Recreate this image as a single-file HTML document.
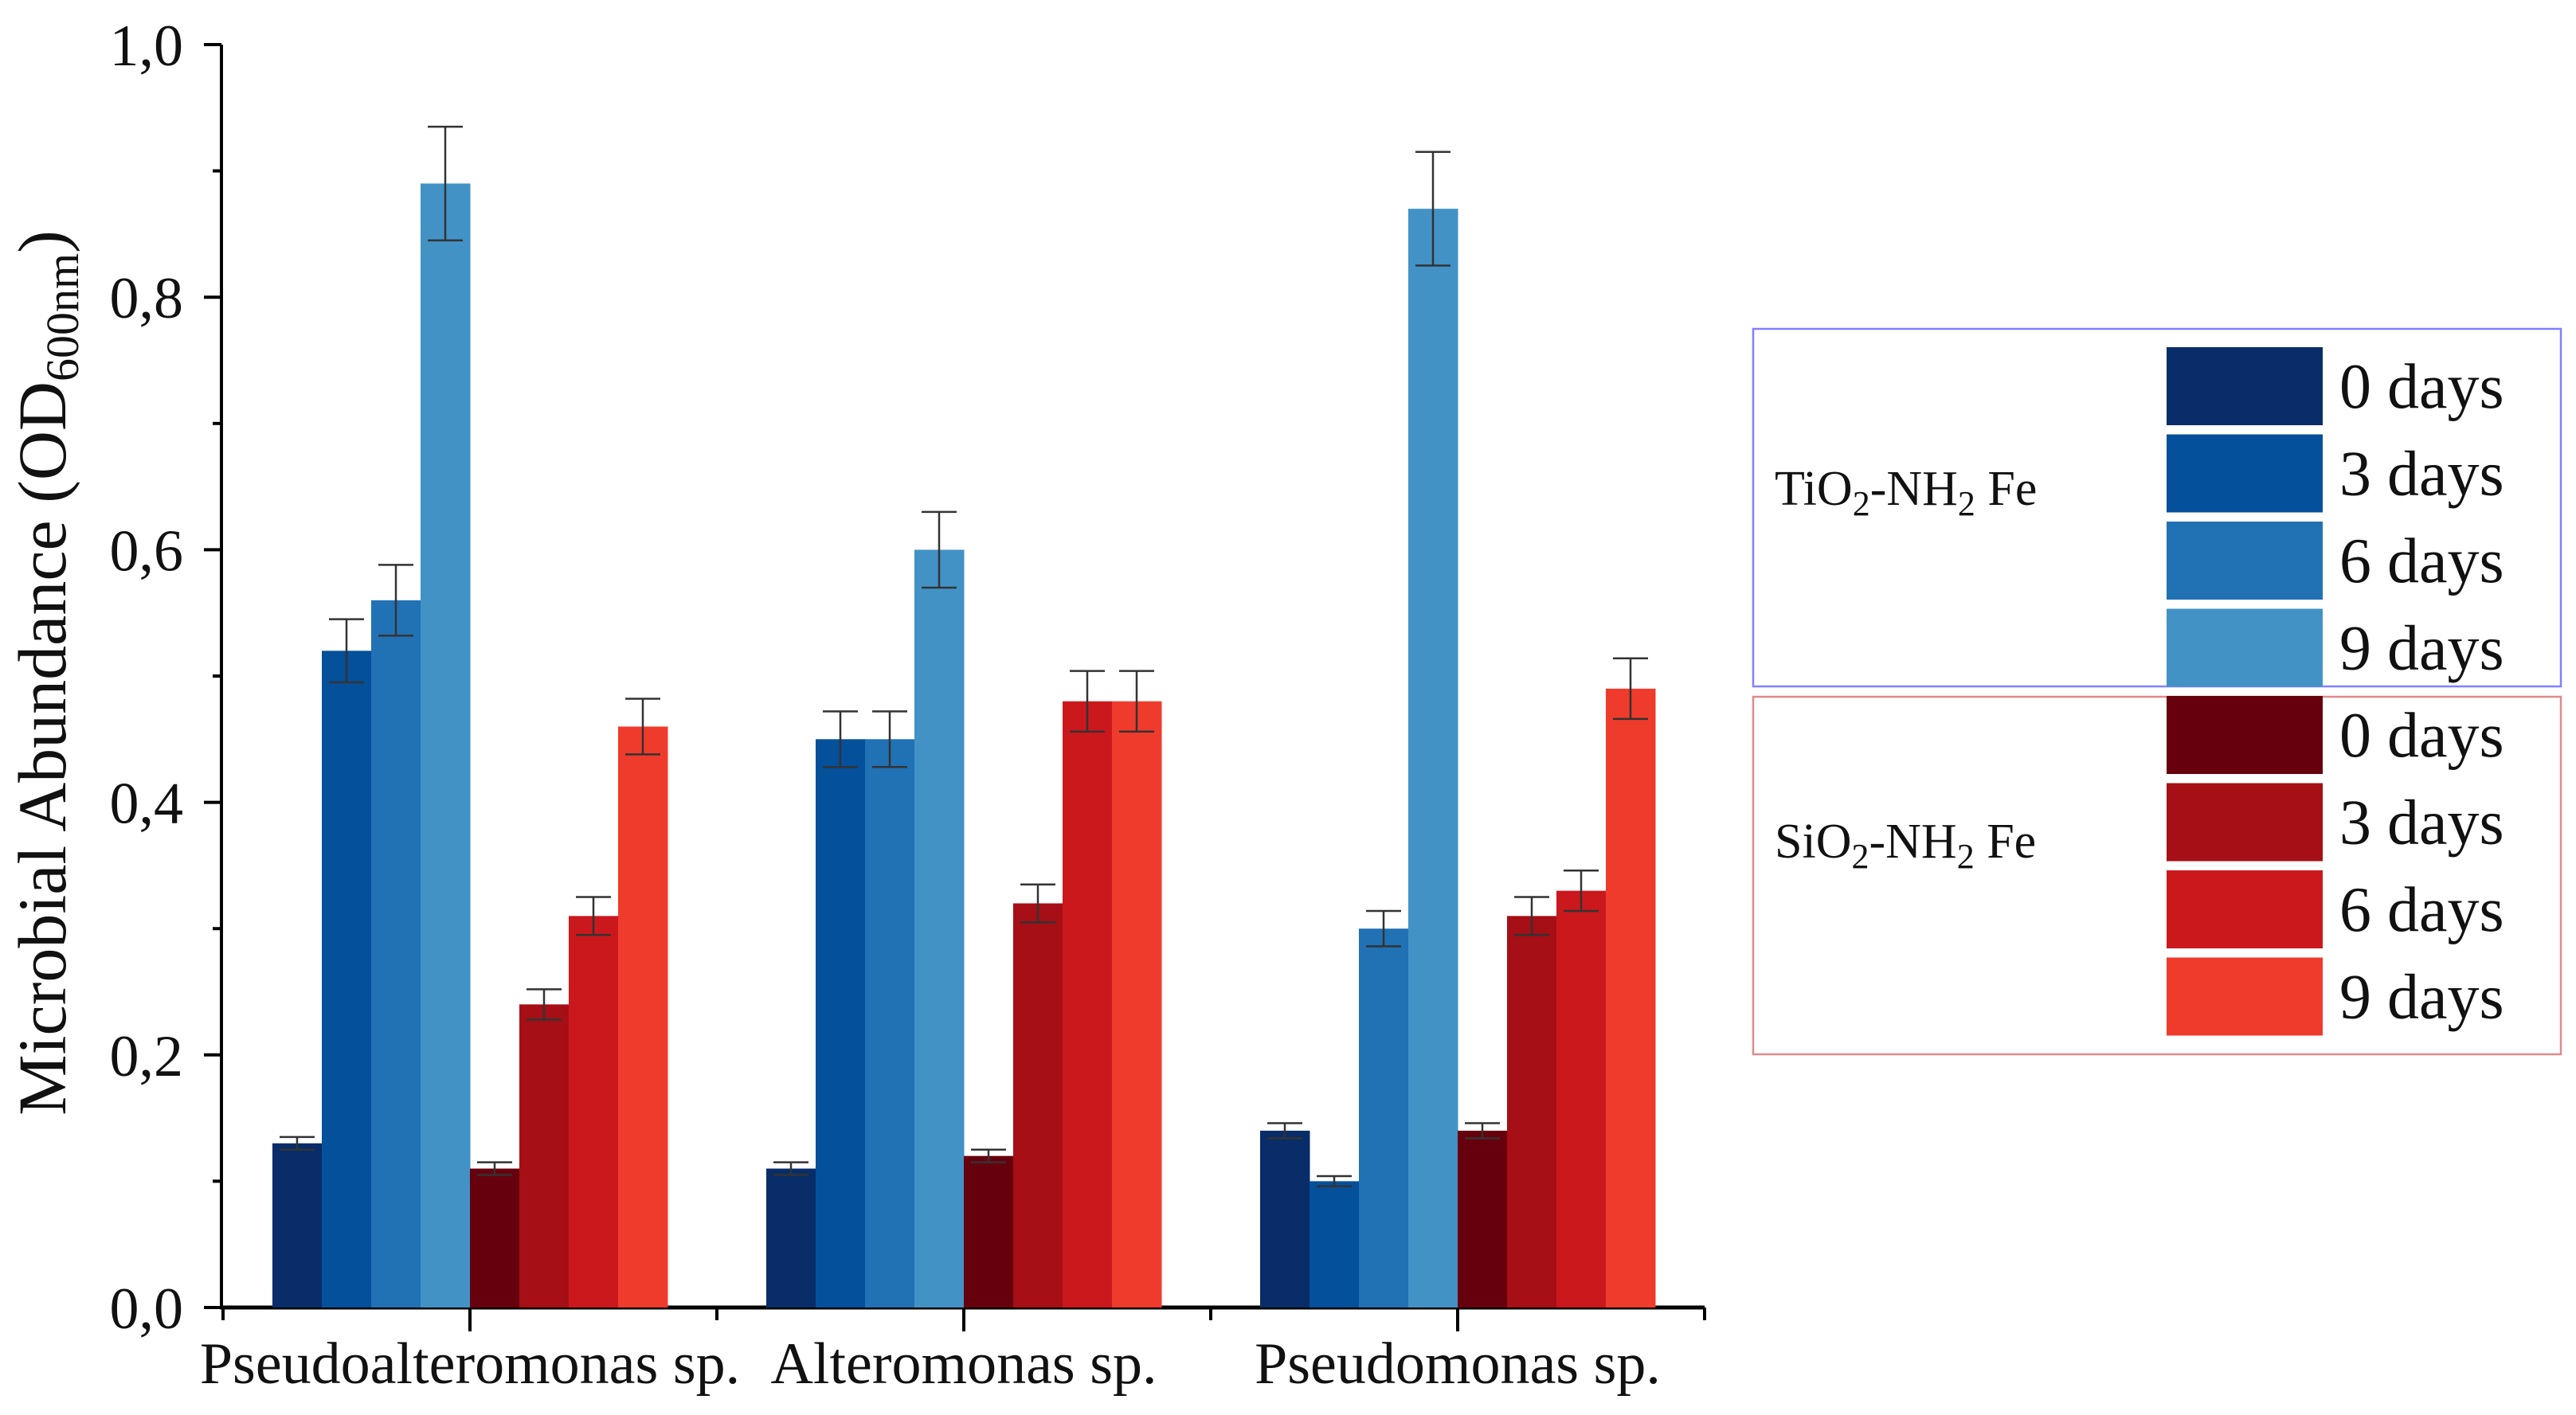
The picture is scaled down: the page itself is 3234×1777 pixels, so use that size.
<!DOCTYPE html>
<html><head><meta charset="utf-8"><style>
html,body{margin:0;padding:0;background:#fff;}
svg{display:block;font-family:"Liberation Serif",serif;}
</style></head><body>
<svg id="chart" width="3234" height="1777" viewBox="0 0 3234 1777" xmlns="http://www.w3.org/2000/svg">
<g id="axes"></g>
<g id="bars"></g>
<g id="errs"></g>
<text transform="translate(82,845) rotate(-90)" text-anchor="middle" font-size="86" fill="#111">Microbial Abundance (OD<tspan font-size="58" dy="16">600nm</tspan><tspan dy="-16">)</tspan></text>
<g id="legend">
<rect x="2201" y="413" width="1014" height="449" fill="none" stroke="#8080ff" stroke-width="2.5"/>
<rect x="2201" y="875" width="1014" height="449" fill="none" stroke="#e08a8a" stroke-width="2.5"/>
<text x="2228" y="634" font-size="62" fill="#111">TiO<tspan font-size="44" dy="13">2</tspan><tspan dy="-13">-NH</tspan><tspan font-size="44" dy="13">2</tspan><tspan dy="-13"> Fe</tspan></text>
<text x="2228" y="1077" font-size="62" fill="#111">SiO<tspan font-size="44" dy="13">2</tspan><tspan dy="-13">-NH</tspan><tspan font-size="44" dy="13">2</tspan><tspan dy="-13"> Fe</tspan></text>
</g>
</svg>
<script>
const categories = ["Pseudoalteromonas sp.", "Alteromonas sp.", "Pseudomonas sp."];
const seriesNames = ["TiO2 0 days","TiO2 3 days","TiO2 6 days","TiO2 9 days","SiO2 0 days","SiO2 3 days","SiO2 6 days","SiO2 9 days"];
const legendLabels = ["0 days","3 days","6 days","9 days","0 days","3 days","6 days","9 days"];
const colors = ["#082d68","#05509a","#2171b5","#4292c6","#67000d","#a50f15","#cb181d","#ef3b2c"];
const values = [
  [0.13,0.52,0.56,0.89,0.11,0.24,0.31,0.46],
  [0.11,0.45,0.45,0.60,0.12,0.32,0.48,0.48],
  [0.14,0.10,0.30,0.87,0.14,0.31,0.33,0.49]
];
const errors = [
  [0.005,0.025,0.028,0.045,0.005,0.012,0.015,0.022],
  [0.005,0.022,0.022,0.030,0.005,0.015,0.024,0.024],
  [0.006,0.004,0.014,0.045,0.006,0.015,0.016,0.024]
];
const yTicks = [0,0.2,0.4,0.6,0.8,1.0];
const yTickLabels = ["0,0","0,2","0,4","0,6","0,8","1,0"];

const NS="http://www.w3.org/2000/svg";
const X0=278, X1=2140, Y0=1642, Y1=56, groupW=620;
const y=v=>Y0-(v-0)/(1.0-0)*(Y0-Y1);
const xc=i=>590+i*groupW;
const barW=groupW*0.8/8;
function mk(tag,attrs,parent){const e=document.createElementNS(NS,tag);for(const k in attrs)e.setAttribute(k,attrs[k]);parent.appendChild(e);return e;}
const axes=document.getElementById('axes'),bars=document.getElementById('bars'),errs=document.getElementById('errs'),legend=document.getElementById('legend');

values.forEach((row,g)=>{
  row.forEach((v,s)=>{
    const bx=xc(g)-groupW*0.4+s*barW;
    const r=mk('rect',{x:bx,y:y(v),width:barW+0.5,height:Y0-y(v),fill:colors[s]},bars);
    
    
    const cx=bx+barW/2, e=errors[g][s];
    const eg=mk('g',{stroke:'#333','stroke-width':2.5},errs);
    
    
    mk('line',{x1:cx,x2:cx,y1:y(v+e),y2:y(v-e)},eg);
    mk('line',{x1:cx-22,x2:cx+22,y1:y(v+e),y2:y(v+e)},eg);
    mk('line',{x1:cx-22,x2:cx+22,y1:y(v-e),y2:y(v-e)},eg);
  });
});

const ya=mk('line',{x1:X0,x2:X0,y1:Y1,y2:Y0+2,stroke:'#000','stroke-width':4},axes);

const xa=mk('line',{x1:X0-2,x2:X1,y1:Y0,y2:Y0,stroke:'#000','stroke-width':5},axes);

yTicks.forEach((t,i)=>{
  mk('line',{x1:X0-22,x2:X0,y1:y(t),y2:y(t),stroke:'#000','stroke-width':4},axes);
  if(i<yTicks.length-1) mk('line',{x1:X0-11,x2:X0,y1:y(t+0.1),y2:y(t+0.1),stroke:'#000','stroke-width':4},axes);
  const tl=mk('text',{x:X0-48,y:y(t)+26,'text-anchor':'end','font-size':74,fill:'#111'},axes);
  tl.textContent=yTickLabels[i];
  
});
categories.forEach((c,i)=>{
  mk('line',{x1:xc(i),x2:xc(i),y1:Y0,y2:Y0+30,stroke:'#000','stroke-width':4},axes);
  mk('line',{x1:xc(i)-groupW/2,x2:xc(i)-groupW/2,y1:Y0,y2:Y0+16,stroke:'#000','stroke-width':4},axes);
  const tl=mk('text',{x:xc(i),y:1737,'text-anchor':'middle','font-size':74,fill:'#111'},axes);
  tl.textContent=c;
  
});
mk('line',{x1:X1,x2:X1,y1:Y0,y2:Y0+16,stroke:'#000','stroke-width':4},axes);

legendLabels.forEach((l,i)=>{
  const ly=436+i*109.5;
  const sw=mk('rect',{x:2720,y:ly,width:196,height:98,fill:colors[i]},legend);
  
  const t=mk('text',{x:2937,y:ly+76,'font-size':80,fill:'#111'},legend);
  t.textContent=l;
  
});
</script>
</body></html>
